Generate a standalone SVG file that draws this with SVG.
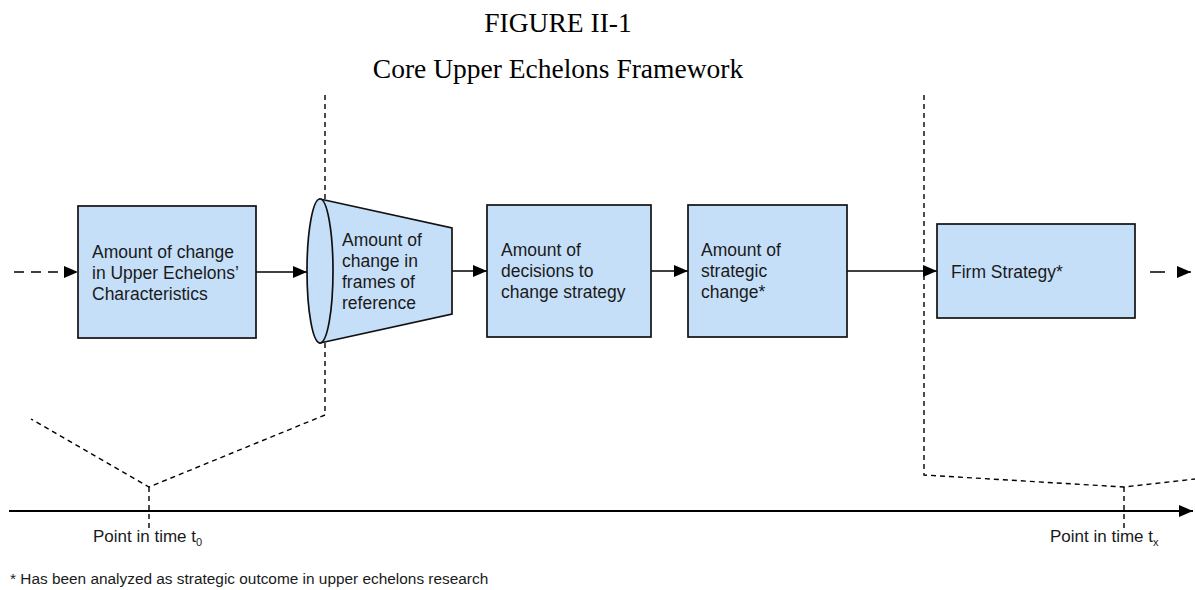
<svg xmlns="http://www.w3.org/2000/svg" width="1195" height="590" viewBox="0 0 1195 590">
<style>
.box{fill:#C6DFF9;stroke:#111;stroke-width:1.7}
.t{font-family:"Liberation Sans",Arial,sans-serif;font-size:17.5px;fill:#1a1a1a}
.title{font-family:"Liberation Serif","Times New Roman",serif;font-size:27.5px;fill:#000;text-anchor:middle}
.lbl{font-family:"Liberation Sans",Arial,sans-serif;font-size:17px;fill:#1a1a1a}
.sub{font-size:11px}
.foot{font-family:"Liberation Sans",Arial,sans-serif;font-size:15.4px;fill:#1a1a1a}
.arr{stroke:#000;stroke-width:1.7;fill:none;marker-end:url(#ah)}
.dash{stroke:#000;stroke-width:1.4;fill:none;stroke-dasharray:5,4}
</style>
<defs>
<marker id="ah" markerWidth="14" markerHeight="12" refX="14" refY="6" orient="auto" markerUnits="userSpaceOnUse">
<path d="M0,0 L14,6 L0,12 Z" fill="#000"/>
</marker>
</defs>
<rect width="1195" height="590" fill="#fff"/>
<text class="title" x="558" y="32">FIGURE II-1</text>
<text class="title" x="558" y="78">Core Upper Echelons Framework</text>

<g id="guides">
<path class="dash" d="M325,95 V199"/>
<path class="dash" d="M325,343 V415 L149,487 L31,419"/>
<path class="dash" d="M149,487 V528"/>
<path class="dash" d="M924,95 V475 L1124,487 L1195,479"/>
<path class="dash" d="M1124,487 V528"/>
</g>

<g id="connectors">
<path class="arr" d="M14,272 H78" style="stroke-dasharray:10,7"/>
<path class="arr" d="M256,272 H307"/>
<path class="arr" d="M452,271 H487"/>
<path class="arr" d="M651,271 H688"/>
<path class="arr" d="M847,271 H937"/>
<path class="arr" d="M1150,272 H1191" style="stroke-dasharray:15,12"/>
<path class="arr" d="M9,511 H1193" style="stroke-width:2"/>
</g>

<g id="n1">
<rect class="box" x="78" y="206" width="178" height="132"/>
<text class="t" x="92" y="258">Amount of change</text>
<text class="t" x="92" y="279">in Upper Echelons’</text>
<text class="t" x="92" y="300">Characteristics</text>
</g>

<g id="n2">
<path class="box" d="M320,199 L452,228 L452,314 L320,343 Z"/>
<ellipse class="box" cx="320" cy="271" rx="13" ry="72"/>
<text class="t" x="342" y="246">Amount of</text>
<text class="t" x="342" y="267">change in</text>
<text class="t" x="342" y="288">frames of</text>
<text class="t" x="342" y="309">reference</text>
</g>

<g id="n3">
<rect class="box" x="487" y="205" width="164" height="132"/>
<text class="t" x="501" y="256">Amount of</text>
<text class="t" x="501" y="277">decisions to</text>
<text class="t" x="501" y="298">change strategy</text>
</g>

<g id="n4">
<rect class="box" x="688" y="205" width="159" height="132"/>
<text class="t" x="701" y="256">Amount of</text>
<text class="t" x="701" y="277">strategic</text>
<text class="t" x="701" y="298">change*</text>
</g>

<g id="n5">
<rect class="box" x="937" y="224" width="198" height="94"/>
<text class="t" x="951" y="278">Firm Strategy*</text>
</g>

<text class="lbl" x="93" y="542">Point in time t<tspan class="sub" dy="4">0</tspan></text>
<text class="lbl" x="1050" y="542">Point in time t<tspan class="sub" dy="4">x</tspan></text>
<text class="foot" x="10" y="584">* Has been analyzed as strategic outcome in upper echelons research</text>
</svg>
